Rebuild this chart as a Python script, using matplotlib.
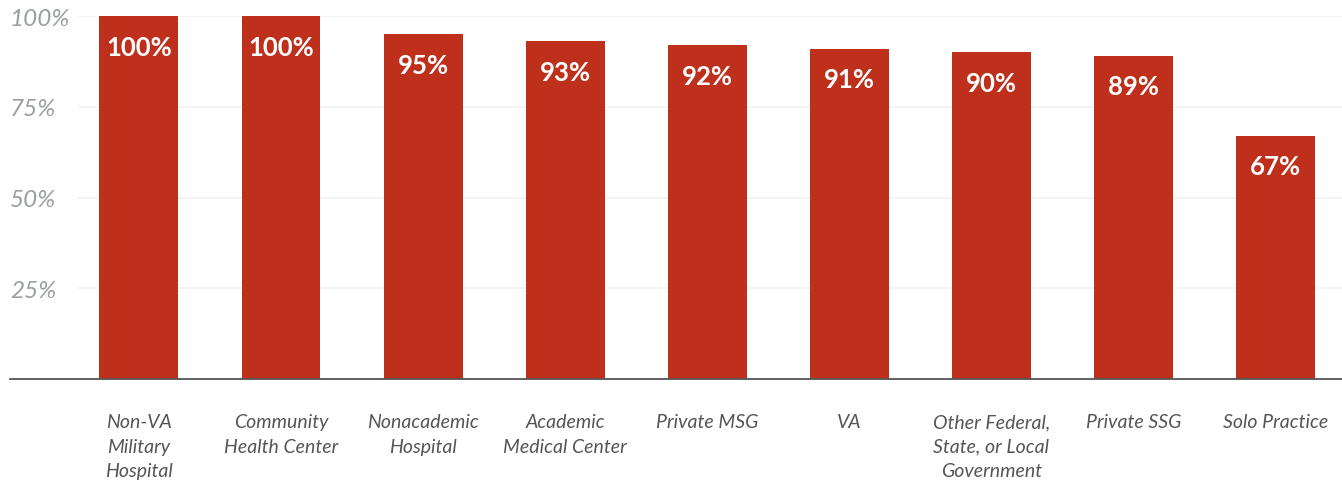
import numpy as np
import matplotlib
matplotlib.use("Agg")
import matplotlib.pyplot as plt

plt.rcParams["font.family"] = ["Lato", "DejaVu Sans"]

CATEGORIES = [
    "Non-VA\nMilitary\nHospital",
    "Community\nHealth Center",
    "Nonacademic\nHospital",
    "Academic\nMedical Center",
    "Private MSG",
    "VA",
    "Other Federal,\nState, or Local\nGovernment",
    "Private SSG",
    "Solo Practice",
]
VALUES = [100, 100, 95, 93, 92, 91, 90, 89, 67]
Y_TICKS = [25, 50, 75, 100]

BAR_COLOR = "#BE301C"
TICK_COLOR = "#9A9E9C"
LABEL_COLOR = "#555555"

W, H, DPI = 1342, 485, 100
fig = plt.figure(figsize=(W / DPI, H / DPI), dpi=DPI)
ax = fig.add_axes([10 / W, (H - 380) / H, (W - 10) / W, 363 / H])

x = np.arange(len(VALUES))
bars = ax.bar(x, VALUES, width=0.556, color=BAR_COLOR, zorder=2, clip_on=False)

ax.set_xlim(-0.908, 8.47)
ax.set_ylim(0, 100)

# light gridlines start a bit right of the tick labels
ax.hlines(Y_TICKS, -0.43, ax.get_xlim()[1], color="#F2F2F2", lw=1.2, zorder=1)

for rect, v in zip(bars, VALUES):
    ax.annotate(f"{v}%", (rect.get_x() + rect.get_width() / 2, v),
                xytext=(0, -22), textcoords="offset points",
                ha="center", va="center", color="white",
                fontsize=18.5, fontweight="bold", zorder=3)

ax.set_yticks(Y_TICKS)
ax.set_yticklabels([f"{t}%" for t in Y_TICKS], fontsize=17.5, fontstyle="italic",
                   color=TICK_COLOR, ha="left")
ax.tick_params(axis="y", length=0, pad=0)

ax.set_xticks(x)
ax.set_xticklabels(CATEGORIES, fontsize=14, fontstyle="italic",
                   color=LABEL_COLOR, linespacing=1.55, va="top")
ax.tick_params(axis="x", length=0, pad=24.5)

for side in ("top", "right", "left"):
    ax.spines[side].set_visible(False)
ax.spines["bottom"].set_color("#555555")
ax.spines["bottom"].set_linewidth(1.3)
ax.spines["bottom"].set_zorder(4)

fig.savefig("out.png", dpi=DPI)
